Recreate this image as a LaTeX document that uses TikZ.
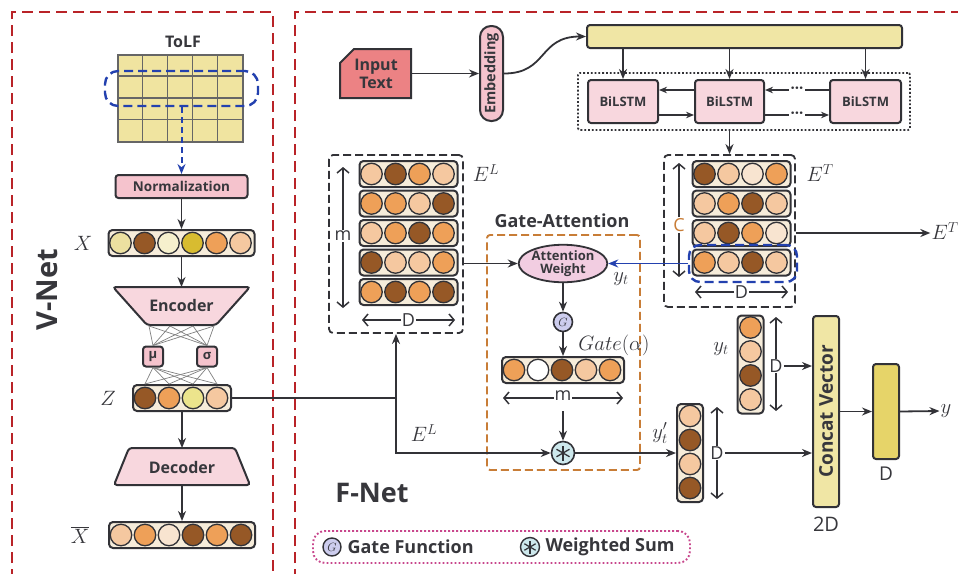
\documentclass[tikz,border=0pt]{standalone}
\usepackage[no-math]{fontspec}
\setmainfont{Open Sans}
\usepackage{graphicx}
\usetikzlibrary{arrows.meta,calc,shapes.geometric}
\definecolor{frred}{RGB}{185,35,40}
\definecolor{dk}{RGB}{50,50,55}
\definecolor{txt}{RGB}{55,55,60}
\definecolor{gridy}{RGB}{240,228,160}
\definecolor{selblue}{RGB}{35,65,175}
\definecolor{pinkbox}{RGB}{245,195,205}
\definecolor{pinkl}{RGB}{248,215,222}
\definecolor{salmon}{RGB}{236,130,132}
\definecolor{beige}{RGB}{246,236,218}
\definecolor{cbr}{RGB}{150,88,38}
\definecolor{cor}{RGB}{238,160,88}
\definecolor{clo}{RGB}{245,200,160}
\definecolor{cpa}{RGB}{248,228,208}
\definecolor{cly}{RGB}{236,224,160}
\definecolor{cgo}{RGB}{216,188,48}
\definecolor{cpy}{RGB}{246,240,205}
\definecolor{cyz}{RGB}{236,228,140}
\definecolor{ybar}{RGB}{240,230,165}
\definecolor{ydark}{RGB}{230,212,105}
\definecolor{gaor}{RGB}{200,125,55}
\definecolor{lav}{RGB}{205,205,238}
\definecolor{cyanl}{RGB}{205,232,236}
\definecolor{mag}{RGB}{200,70,140}
\definecolor{attp}{RGB}{242,205,225}
\newcommand\hvec[5]{%
  \node[vecbox, minimum width={#2*24+2}, minimum height=26] (#1) at (#3,#4) {};
  \foreach \cc [count=\i] in {#5} {\node[ball, fill=\cc] (#1-\i) at ($(#1.west)+(\i*24-11,0)$) {};}
}
\newcommand\vvec[5]{%
  \node[vecbox, minimum height={#2*24+2}, minimum width=26] (#1) at (#3,#4) {};
  \foreach \cc [count=\i] in {#5} {\node[ball, fill=\cc] (#1-\i) at ($(#1.north)+(0,\i*24-11)$) {};}
}
\begin{document}
\begin{tikzpicture}[x=1pt,y=-1pt,
 >={Stealth[length=10pt,width=8pt]},
 arr/.style={->,line width=1.8pt,draw=dk},
 thinarr/.style={->,>={Stealth[length=8pt,width=6.5pt]},line width=1.3pt,draw=dk},
 dim/.style={{Straight Barb[length=5pt,width=12pt]}-{Straight Barb[length=5pt,width=12pt]},line width=1.5pt,draw=dk},
 frame/.style={draw=frred,line width=2.6pt,dash pattern=on 11pt off 6pt},
 vecbox/.style={draw=dk,line width=2pt,fill=beige,rounded corners=4pt,inner sep=0pt},
 ball/.style={circle,draw=dk,line width=1.3pt,minimum size=21.5pt,inner sep=0pt},
 lab/.style={font=\bfseries\fontsize{13.5}{15}\selectfont,text=txt},
 mlab/.style={font=\fontsize{20}{22}\selectfont,text=txt,inner sep=1pt},
 dlab/.style={font=\fontsize{18}{20}\selectfont,text=txt,fill=white,inner sep=1pt},
 box/.style={draw=dk,line width=2pt,rounded corners=3pt,inner sep=0pt},
 embox/.style={draw=dk,line width=1.8pt,dash pattern=on 8pt off 4pt,rounded corners=4pt,inner sep=0pt},
 lstm/.style={box,fill=pinkl,minimum width=70,minimum height=43,font=\bfseries\fontsize{13}{15}\selectfont,text=txt},
 selbox/.style={draw=selblue,line width=2.4pt,dash pattern=on 9pt off 5pt},
 dotsl/.style={fill=white,inner sep=2pt,text=dk,font=\bfseries\fontsize{15}{15}\selectfont},
]
\useasboundingbox (0,0) rectangle (958,573);
\fill[white] (0,0) rectangle (958,573);
% frames
\draw[frame] (12,580) -- (12,12) -- (273,12) -- (273,580);
\draw[frame] (295,580) -- (295,12) -- (965,12);

% ---------------- V-Net ----------------
\node[font=\bfseries\fontsize{29}{31}\selectfont,text=txt] (vnet) at (47,290) {\rotatebox{90}{V-Net}};
\node[lab,font=\bfseries\fontsize{16}{18}\selectfont] (tolfl) at (183,42) {ToLF};
\node[draw=black!60,line width=1.3pt,fill=gridy,minimum width=125,minimum height=87,inner sep=0] (grid) at (180.5,98.5) {};
\foreach \k in {1,...,4} \draw[black!60,line width=1.3pt] ($(grid.north west)+(\k*25,0)$) -- ($(grid.south west)+(\k*25,0)$);
\foreach \k in {1,2,3} \draw[black!60,line width=1.3pt] ($(grid.north west)+(0,\k*21.75)$) -- ($(grid.north east)+(0,\k*21.75)$);
\node[selbox,rounded corners=13pt,minimum width=153,minimum height=35] (sel) at (181.5,88.5) {};
\node[box,fill=pinkbox,minimum width=132,minimum height=23,lab] (norm) at (181.5,186.5) {Normalization};
\draw[->,draw=selblue,line width=2pt,dash pattern=on 6pt off 4pt] (sel.south) -- (norm.north);

\hvec{X}{6}{181.5}{243}{cly,cbr,cpy,cgo,cor,clo}
\node[mlab] (lX) at (83,243) {$X$};
\draw[arr] (norm.south) -- (X.north);

\coordinate (enct) at (181.5,287);
\draw[box,fill=pinkl] (113,287) -- (250,287) -- (216,325) -- (147,325) -- cycle;
\node[lab,font=\bfseries\fontsize{16}{18}\selectfont] (enc) at (181.5,305) {Encoder};
\draw[arr] (X.south) -- (enct);

\node[box,fill=pinkbox,minimum size=20,font=\bfseries\fontsize{13}{14}\selectfont,text=txt] (mu) at (153,356.5) {μ};
\node[box,fill=pinkbox,minimum size=20,font=\bfseries\fontsize{13}{14}\selectfont,text=txt] (sig) at (207,356.5) {σ};
\foreach \px in {149,170,193,214} {
  \draw[gray,line width=0.7pt] (\px,326) -- (mu.north);
  \draw[gray,line width=0.7pt] (\px,326) -- (sig.north);
}
\hvec{Z}{4}{182}{398}{cbr,cor,cyz,clo}
\foreach \k in {1,...,4} {
  \draw[gray,line width=0.7pt] (mu.south) -- ($(Z.north west)+(\k*24-11,0)$);
  \draw[gray,line width=0.7pt] (sig.south) -- ($(Z.north west)+(\k*24-11,0)$);
}
\node[mlab] (lZ) at (108,398) {$Z$};

\coordinate (dect) at (182,448);
\coordinate (decb) at (182,485);
\draw[box,fill=pinkl] (129,448) -- (235,448) -- (250,485) -- (114,485) -- cycle;
\node[lab,font=\bfseries\fontsize{16}{18}\selectfont] (dec) at (182,467) {Decoder};
\draw[arr] (Z.south) -- (dect);
\hvec{Xb}{6}{182}{535}{clo,cor,cpa,cbr,cor,cbr}
\draw[arr] (decb) -- (Xb.north);
\node[mlab] (lXb) at (80,535) {$\overline{X}$};

% ---------------- F-Net ----------------
\node[font=\bfseries\fontsize{27}{29}\selectfont,text=txt] (fnet) at (372,493) {F-Net};
\draw[box,fill=salmon,rounded corners=0pt] (340,63) -- (354,49) -- (411,49) -- (411,98) -- (340,98) -- cycle;
\node[lab,font=\bfseries\fontsize{16}{18}\selectfont,align=center,minimum width=71,minimum height=49,inner sep=0] (inp) at (376,73.5) {Input\\Text};
\node[box,fill=pinkbox,rounded corners=11pt,minimum width=23,minimum height=95,font=\bfseries\fontsize{14.5}{16}\selectfont,text=txt] (emb) at (491.5,73.5) {\rotatebox{90}{Embedding}};
\draw[arr] (inp.east) -- (emb.west);
\node[box,fill=ybar,minimum width=315,minimum height=23] (bar) at (744.5,36.5) {};
\draw[arr] (emb.east) .. controls (548,73.5) and (538,36.5) .. (bar.west);

\node[draw=dk,line width=1.8pt,dash pattern=on 1.8pt off 2pt,minimum width=332,minimum height=57,rounded corners=2pt] (grp) at (744,101.5) {};
\node[lstm] (b1) at (623,101.5) {BiLSTM};
\node[lstm,minimum width=69] (b2) at (729.5,101.5) {BiLSTM};
\node[lstm,minimum width=71] (b3) at (865.5,101.5) {BiLSTM};
\foreach \b in {b1,b2,b3} \draw[arr] (\b.north |- bar.south) -- (\b.north);
\draw[thinarr] ($(b2.west)+(0,-11.5)$) -- ($(b1.east)+(0,-11.5)$);
\draw[thinarr] ($(b1.east)+(0,13.5)$) -- ($(b2.west)+(0,13.5)$);
\draw[thinarr] ($(b3.west)+(0,-11.5)$) -- node[dotsl] (dots1) {···} ($(b2.east)+(0,-11.5)$);
\draw[thinarr] ($(b2.east)+(0,13.5)$) -- node[dotsl] (dots2) {···} ($(b3.west)+(0,13.5)$);

% E^T
\node[embox,minimum width=131,minimum height=152] (ET) at (729.5,231) {};
\draw[arr] (ET.north |- grp.south) -- (ET.north);
\hvec{et1}{4}{741.5}{174}{cbr,clo,cpa,cor}
\hvec{et2}{4}{741.5}{203.5}{clo,cor,cbr,clo}
\hvec{et3}{4}{741.5}{233}{clo,cbr,cor,cpa}
\hvec{et4}{4}{741.5}{262.5}{cor,clo,cbr,clo}
\node[mlab] (lET) at (820,173) {$E^T$};
\draw[dim] (679,163) -- (679,277);
\node[dlab,text=gaor] (lC) at (679,225) {C};
\draw[dim] (695,292) -- (788,292);
\node[dlab] (lDT) at (741.5,292) {D};
\node[selbox,rounded corners=11pt,minimum width=108,minimum height=37] (bsel) at (743,263.5) {};
\node[mlab] (ETo) at (945,231) {$E^T$};
\draw[arr] (ET.east |- et3) -- (ETo.west |- et3);

% E^L
\node[embox,minimum width=134,minimum height=178] (EL) at (396,244) {};
\hvec{el1}{4}{408.5}{174}{clo,cbr,cor,clo}
\hvec{el2}{4}{408.5}{203.5}{cor,cor,clo,cbr}
\hvec{el3}{4}{408.5}{233}{clo,cor,cbr,cor}
\hvec{el4}{4}{408.5}{262.5}{cbr,clo,clo,cor}
\hvec{el5}{4}{408.5}{292}{cor,cbr,cor,cbr}
\node[mlab] (lEL) at (486,173) {$E^L$};
\draw[dim] (343,167) -- (343,308);
\node[dlab] (lm1) at (343,236) {m};
\draw[dim] (362,320) -- (455,320);
\node[dlab] (lDL) at (408.5,320) {D};

% Gate-Attention
\node[lab,font=\bfseries\fontsize{18}{20}\selectfont] (gal) at (562,221) {Gate-Attention};
\node[draw=gaor,line width=1.9pt,dash pattern=on 8pt off 4pt,rounded corners=3pt,minimum width=153,minimum height=235] (GA) at (563.5,352.5) {};
\node[ellipse,draw=dk,line width=1.8pt,fill=attp,minimum width=88,minimum height=37,inner sep=0,align=center,font=\bfseries\fontsize{13}{13.5}\selectfont,text=txt] (att) at (563,263.5) {Attention\\Weight};
\draw[arr] (EL.east |- att) -- (att.west);
\draw[->,draw=selblue,line width=1.8pt] (bsel.west) -- (att.east);
\node[mlab] (lyt1) at (621,279) {$y_t$};
\node[circle,draw=dk,line width=1.6pt,fill=lav,minimum size=19,inner sep=0,font=\fontsize{13}{13}\selectfont,text=dk] (gate) at (563,322) {$G$};
\draw[arr] (att.south) -- (gate.north);
\hvec{gv}{5}{563}{370}{cor,white,cbr,clo,cor}
\draw[arr] (gate.south) -- (gv.north);
\node[mlab] (lgate) at (614,345) {$Gate(\alpha)$};
\draw[dim] (503,398) -- (623,398);
\node[dlab] (lm2) at (563,396) {m};
\node[circle,draw=dk,line width=1.6pt,fill=cyanl,minimum size=23,inner sep=0] (ws) at (563,453) {};
\foreach \a in {90,30,150} \draw[dk,line width=1.3pt] ($(ws)+(\a:7.5)$) -- ($(ws)+(\a+180:7.5)$);
\draw[arr] ($(gv.south)+(0,27)$) -- (ws.north);

% Z connection
\coordinate (jn) at (396,398);
\draw[line width=1.8pt,dk] (Z.east) -- (jn);
\draw[arr] (jn) -- (EL.south);
\draw[arr] (jn) |- (ws.west);
\node[mlab] (lEL2) at (424,433) {$E^L$};

% outputs
\vvec{ypt}{4}{690}{453}{clo,cbr,clo,cbr}
\draw[arr] (ws.east) -- (ypt.west);
\node[mlab] (lypt) at (660,433) {$y'_t$};
\draw[dim] (717,407) -- (717,499);
\node[dlab] (dl1) at (717,453) {D};
\node[box,fill=ybar,minimum width=26,minimum height=191,font=\bfseries\fontsize{19}{21}\selectfont,text=txt] (concat) at (826,411.5) {\rotatebox{90}{Concat Vector}};
\draw[arr] (dl1.east) -- (concat.west |- dl1);
\vvec{ytv}{4}{750.5}{364.5}{cor,clo,cbr,clo}
\node[mlab] (lyt2) at (721,349) {$y_t$};
\draw[dim] (776,317) -- (776,411);
\node[dlab] (dl2) at (776,366) {D};
\draw[arr] (dl2.east) -- (concat.west |- dl2);
\node[font=\fontsize{20}{22}\selectfont,text=txt] (l2D) at (826,524) {2D};
\node[box,fill=ydark,minimum width=26,minimum height=95] (outb) at (886,411.5) {};
\draw[arr] (concat.east |- outb) -- (outb.west);
\node[font=\fontsize{19}{21}\selectfont,text=txt] (lDo) at (886,474) {D};
\node[mlab] (yo) at (946,411) {$y$};
\draw[arr] (outb.east) -- (yo.west);

% legend
\node[draw=mag,line width=1.9pt,dash pattern=on 1.8pt off 2.2pt,rounded corners=12pt,minimum width=377,minimum height=32] (leg) at (501.5,547) {};
\node[circle,draw=dk,line width=1.4pt,fill=lav,minimum size=18,inner sep=0,font=\fontsize{12}{12}\selectfont,text=dk] (lg) at (332,547) {$G$};
\node[lab,font=\bfseries\fontsize{18}{20}\selectfont,anchor=west] (lgt) at (344,547) {Gate Function};
\node[circle,draw=dk,line width=1.4pt,fill=cyanl,minimum size=19,inner sep=0] (lw) at (530,547) {};
\foreach \a in {90,30,150} \draw[dk,line width=1.2pt] ($(lw)+(\a:6.5)$) -- ($(lw)+(\a+180:6.5)$);
\node[lab,font=\bfseries\fontsize{18}{20}\selectfont,anchor=west] (lwt) at (542,547) {Weighted Sum};
\end{tikzpicture}
\end{document}
